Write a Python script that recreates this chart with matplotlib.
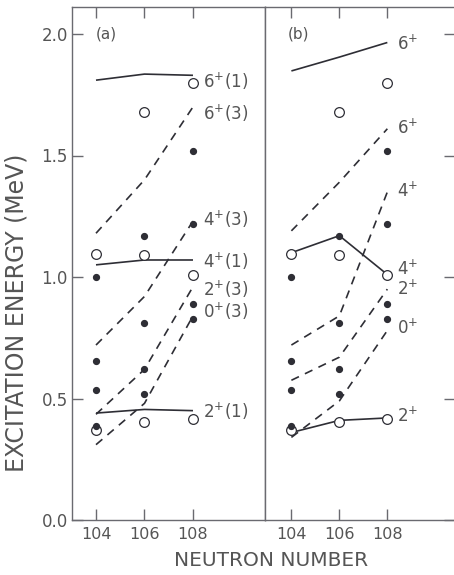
import matplotlib
matplotlib.use("Agg")
import matplotlib.pyplot as plt

plt.rcParams['font.family'] = ['DejaVu Sans']

# ---------------- data ----------------
N = [104, 106, 108]

# experimental levels (filled dots), per neutron number
filled_104 = [0.387, 0.537, 0.654, 1.000]
filled_106 = [0.520, 0.623, 0.810, 1.169]
filled_108 = [0.828, 0.888, 1.219, 1.520]

# experimental levels (open circles), per neutron number
open_104 = [0.370, 1.093]
open_106 = [0.405, 1.090, 1.677]
open_108 = [0.417, 1.008, 1.797]

# panel (a) calculations
a_solid_6p1 = [1.810, 1.835, 1.830]
a_solid_4p1 = [1.050, 1.070, 1.070]
a_solid_2p1 = [0.440, 0.455, 0.450]
a_dash_6p3 = [1.180, 1.400, 1.700]
a_dash_4p3 = [0.720, 0.920, 1.230]
a_dash_2p3 = [0.435, 0.620, 0.960]
a_dash_0p3 = [0.310, 0.480, 0.840]
a_labels = ["6$^{+}$(1)", "6$^{+}$(3)", "4$^{+}$(3)", "4$^{+}$(1)",
            "2$^{+}$(3)", "0$^{+}$(3)", "2$^{+}$(1)"]
a_label_y = [1.807, 1.675, 1.239, 1.066, 0.951, 0.860, 0.449]

# panel (b) calculations
b_solid_6 = [1.848, 1.905, 1.965]
b_solid_4 = [1.100, 1.170, 1.010]
b_solid_2 = [0.360, 0.410, 0.420]
b_dash_6 = [1.190, 1.390, 1.610]
b_dash_4 = [0.720, 0.840, 1.350]
b_dash_2 = [0.575, 0.670, 0.950]
b_dash_0 = [0.340, 0.490, 0.780]
b_labels = ["6$^{+}$", "6$^{+}$", "4$^{+}$", "4$^{+}$", "2$^{+}$", "0$^{+}$", "2$^{+}$"]
b_label_y = [1.959, 1.613, 1.354, 1.033, 0.951, 0.790, 0.428]

yticks = [0.0, 0.5, 1.0, 1.5, 2.0]
ytick_labels = ["0.0", "0.5", "1.0", "1.5", "2.0"]
xtick_labels = ["104", "106", "108"]

# ---------------- style ----------------
W, H = 454, 575
TXT = '#555555'
LINE = '#2e2e35'
SPINE = '#6a6a70'
fig = plt.figure(figsize=(W / 100, H / 100), dpi=100)
fig.patch.set_facecolor('white')

ax_a = fig.add_axes([72 / W, 55 / H, 193 / W, 513 / H])
ax_b = fig.add_axes([265 / W, 55 / H, 190 / W, 513 / H])

dash = (0, (5, 4))


def draw_panel(ax, solids, dashes, labels, label_y, xlim):
    for s in solids:
        ax.plot(N, s, color=LINE, lw=1.2, solid_capstyle='butt', zorder=2)
    for d in dashes:
        ax.plot(N, d, color=LINE, lw=1.2, linestyle=dash, zorder=2)
    # open circles
    for n, vals in zip(N, [open_104, open_106, open_108]):
        ax.plot([n] * len(vals), vals, linestyle='none', marker='o', ms=7,
                mfc='white', mec=LINE, mew=0.9, zorder=3)
    # filled dots
    for n, vals in zip(N, [filled_104, filled_106, filled_108]):
        ax.plot([n] * len(vals), vals, linestyle='none', marker='o', ms=4.2,
                mfc=LINE, mec=LINE, zorder=4)
    for lab, y in zip(labels, label_y):
        ax.text(108.42, y, lab, fontsize=12, color=TXT, ha='left', va='center')
    ax.set_xlim(*xlim)
    ax.set_ylim(0, 513 / 243)
    ax.set_xticks(N)
    ax.set_xticklabels(xtick_labels)
    ax.set_yticks(yticks)
    for sp in ax.spines.values():
        sp.set_color(SPINE)
        sp.set_linewidth(1.0)
    ax.tick_params(direction='in', length=8, width=1.0, color=SPINE,
                   labelcolor=TXT, top=True, bottom=True)
    ax.tick_params(axis='x', labelsize=11.5, pad=5)


draw_panel(ax_a, [a_solid_6p1, a_solid_4p1, a_solid_2p1],
           [a_dash_6p3, a_dash_4p3, a_dash_2p3, a_dash_0p3],
           a_labels, a_label_y, (103.01, 110.97))
draw_panel(ax_b, [b_solid_6, b_solid_4, b_solid_2],
           [b_dash_6, b_dash_4, b_dash_2, b_dash_0],
           b_labels, b_label_y, (102.9, 110.82))

ax_a.set_yticklabels(ytick_labels)
ax_a.tick_params(axis='y', left=True, right=False, labelsize=12, pad=3)
ax_b.tick_params(axis='y', left=False, right=True, labelleft=False,
                 labelright=False)

ax_a.text(104.0, 2.0, "(a)", fontsize=11, color=TXT, ha='left', va='center')
ax_b.text(103.85, 2.0, "(b)", fontsize=11, color=TXT, ha='left', va='center')

fig.text(271 / W, 1 - 561 / H, "NEUTRON NUMBER", fontsize=14.5, color=TXT,
         ha='center', va='center')
fig.text(17 / W, 1 - 313 / H, "EXCITATION ENERGY (MeV)", fontsize=17,
         color=TXT, ha='center', va='center', rotation=90)

fig.savefig("out.png", dpi=100)
